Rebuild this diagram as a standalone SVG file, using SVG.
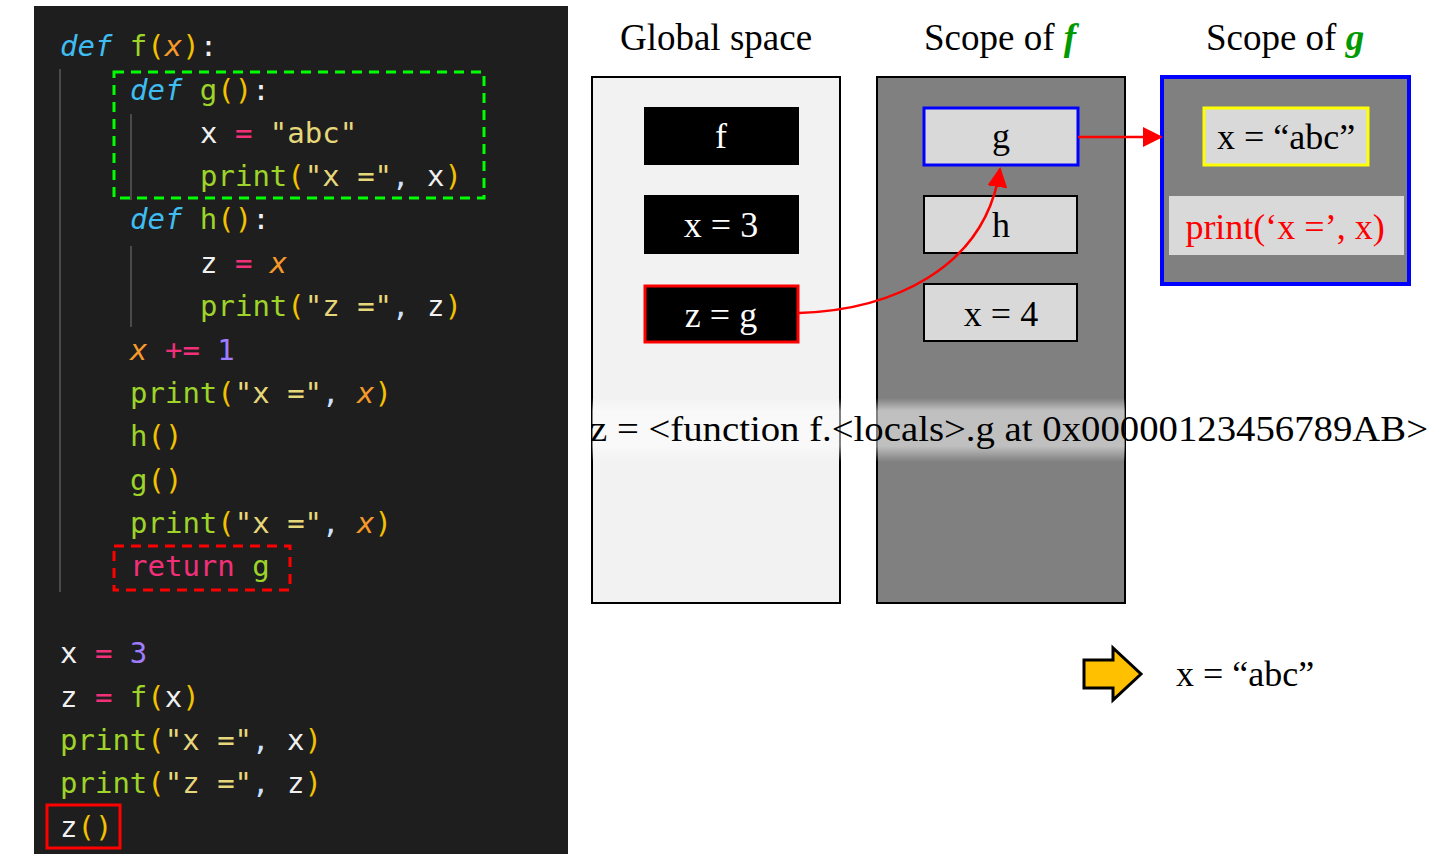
<svg xmlns="http://www.w3.org/2000/svg" width="1452" height="862" viewBox="0 0 1452 862">
<defs>
<style>
.code{font-family:"DejaVu Sans Mono","Liberation Mono",monospace;font-size:29px;fill:#f0f0f0}
.kw{fill:#3fbdf0;font-style:italic}
.fn{fill:#9ed42a}
.pa{fill:#f2c200}
.ar{fill:#f59a2a;font-style:italic}
.op{fill:#f2307a}
.st{fill:#e6d77a}
.nu{fill:#a07cff}
.cm{fill:#cfe3ff}
.guide{stroke:#4a4a4a;stroke-width:2}
.lbl{font-family:"Liberation Serif","DejaVu Serif",serif;font-size:36px;text-anchor:middle}
.title{font-family:"Liberation Serif","DejaVu Serif",serif;font-size:37px;text-anchor:middle;fill:#000}
.blk{fill:#000}
.lt{fill:#d9d9d9}
.wt{fill:#fff}
</style>
<marker id="ah" viewBox="0 0 10 10" refX="9" refY="5" markerWidth="8" markerHeight="8" orient="auto" markerUnits="strokeWidth">
<path d="M0,0 L10,5 L0,10 z" fill="#ff0000"/>
</marker>
<linearGradient id="band" x1="0" y1="0" x2="0" y2="1">
<stop offset="0" stop-color="#fff" stop-opacity="0"/>
<stop offset="0.2" stop-color="#fff" stop-opacity="0.5"/>
<stop offset="0.75" stop-color="#fff" stop-opacity="0.5"/>
<stop offset="1" stop-color="#fff" stop-opacity="0"/>
</linearGradient>
</defs>
<rect width="1452" height="862" fill="#fff"/>

<g id="code">
<rect x="34" y="6" width="534" height="848" fill="#1e1e1e"/>
<line class="guide" x1="60" y1="69" x2="60" y2="592"/>
<line class="guide" x1="131" y1="114" x2="131" y2="200"/>
<line class="guide" x1="131" y1="246" x2="131" y2="327"/>
<g class="code" xml:space="preserve">
<text x="60" y="56"><tspan class="kw">def</tspan> <tspan class="fn">f</tspan><tspan class="pa">(</tspan><tspan class="ar">x</tspan><tspan class="pa">)</tspan>:</text>
<text x="130" y="100"><tspan class="kw">def</tspan> <tspan class="fn">g</tspan><tspan class="pa">()</tspan>:</text>
<text x="200" y="143">x <tspan class="op">=</tspan> <tspan class="st">"abc"</tspan></text>
<text x="200" y="186"><tspan class="fn">print</tspan><tspan class="pa">(</tspan><tspan class="st">"x ="</tspan><tspan class="cm">,</tspan> x<tspan class="pa">)</tspan></text>
<text x="130" y="229"><tspan class="kw">def</tspan> <tspan class="fn">h</tspan><tspan class="pa">()</tspan>:</text>
<text x="200" y="273">z <tspan class="op">=</tspan> <tspan class="ar">x</tspan></text>
<text x="200" y="316"><tspan class="fn">print</tspan><tspan class="pa">(</tspan><tspan class="st">"z ="</tspan><tspan class="cm">,</tspan> z<tspan class="pa">)</tspan></text>
<text x="130" y="360"><tspan class="ar">x</tspan> <tspan class="op">+=</tspan> <tspan class="nu">1</tspan></text>
<text x="130" y="403"><tspan class="fn">print</tspan><tspan class="pa">(</tspan><tspan class="st">"x ="</tspan><tspan class="cm">,</tspan> <tspan class="ar">x</tspan><tspan class="pa">)</tspan></text>
<text x="130" y="446"><tspan class="fn">h</tspan><tspan class="pa">()</tspan></text>
<text x="130" y="490"><tspan class="fn">g</tspan><tspan class="pa">()</tspan></text>
<text x="130" y="533"><tspan class="fn">print</tspan><tspan class="pa">(</tspan><tspan class="st">"x ="</tspan><tspan class="cm">,</tspan> <tspan class="ar">x</tspan><tspan class="pa">)</tspan></text>
<text x="130" y="576"><tspan class="op">return</tspan> <tspan class="fn">g</tspan></text>
<text x="60" y="663">x <tspan class="op">=</tspan> <tspan class="nu">3</tspan></text>
<text x="60" y="707">z <tspan class="op">=</tspan> <tspan class="fn">f</tspan><tspan class="pa">(</tspan>x<tspan class="pa">)</tspan></text>
<text x="60" y="750"><tspan class="fn">print</tspan><tspan class="pa">(</tspan><tspan class="st">"x ="</tspan><tspan class="cm">,</tspan> x<tspan class="pa">)</tspan></text>
<text x="60" y="793"><tspan class="fn">print</tspan><tspan class="pa">(</tspan><tspan class="st">"z ="</tspan><tspan class="cm">,</tspan> z<tspan class="pa">)</tspan></text>
<text x="60" y="837">z<tspan class="pa">()</tspan></text>
</g>
<rect x="114" y="72" width="370" height="126" fill="none" stroke="#00ff00" stroke-width="3" stroke-dasharray="10,7"/>
<rect x="114" y="546" width="176" height="44" fill="none" stroke="#ff0000" stroke-width="3" stroke-dasharray="10,7"/>
<rect x="47" y="805" width="73" height="43" fill="none" stroke="#ff0000" stroke-width="3"/>
</g>

<g id="titles">
<text class="title" x="716" y="50">Global space</text>
<text class="title" x="1000" y="50">Scope of <tspan fill="#009a00" font-weight="bold" font-style="italic">f</tspan></text>
<text class="title" x="1285" y="50">Scope of <tspan fill="#009a00" font-weight="bold" font-style="italic">g</tspan></text>
</g>

<g id="global-space">
<rect x="592" y="77" width="248" height="526" fill="#f2f2f2" stroke="#000" stroke-width="2"/>
</g>
<g id="scope-f">
<rect x="877" y="77" width="248" height="526" fill="#808080" stroke="#000" stroke-width="2"/>
</g>
<g id="scope-g">
<rect x="1162" y="77" width="247" height="207" fill="#808080" stroke="#0000ff" stroke-width="4"/>
</g>

<g id="node-f"><rect x="644" y="107" width="155" height="58" class="blk"/><text class="lbl wt" x="721" y="148">f</text></g>
<g id="node-x3"><rect x="644" y="195" width="155" height="59" class="blk"/><text class="lbl wt" x="721" y="237">x = 3</text></g>
<g id="node-zg"><rect x="645" y="286" width="153" height="56" class="blk" stroke="#ff0000" stroke-width="3"/><text class="lbl wt" x="721" y="327">z = g</text></g>

<g id="node-g"><rect x="924" y="108" width="154" height="57" class="lt" stroke="#0000ff" stroke-width="3"/><text class="lbl" x="1001" y="148">g</text></g>
<g id="node-h"><rect x="924" y="196" width="153" height="57" class="lt" stroke="#000" stroke-width="2"/><text class="lbl" x="1001" y="237">h</text></g>
<g id="node-x4"><rect x="924" y="284" width="153" height="57" class="lt" stroke="#000" stroke-width="2"/><text class="lbl" x="1001" y="326">x = 4</text></g>

<g id="node-xabc"><rect x="1204" y="108" width="164" height="57" class="lt" stroke="#ffff00" stroke-width="3"/><text class="lbl" x="1286" y="149">x = “abc”</text></g>
<g id="node-print"><rect x="1169" y="196" width="235" height="59" class="lt"/><text class="lbl" x="1285" y="239" fill="#ff0000">print(‘x =’, x)</text></g>

<g id="band">
<rect x="592" y="398" width="533" height="64" fill="url(#band)"/>
<text x="590" y="441" font-family="Liberation Serif, DejaVu Serif, serif" font-size="36" textLength="838" lengthAdjust="spacingAndGlyphs">z = &lt;function f.&lt;locals&gt;.g at 0x00000123456789AB&gt;</text>
</g>

<g id="connectors" fill="none" stroke="#ff0000" stroke-width="2.5">
<path d="M1078,137 L1161,137" marker-end="url(#ah)"/>
<path d="M799,313 C890,310 985,270 1000,169" marker-end="url(#ah)"/>
</g>

<g id="result">
<path d="M1084,660 L1113,660 L1113,648 L1141,674 L1113,700 L1113,688 L1084,688 z" fill="#ffc000" stroke="#000" stroke-width="3" stroke-linejoin="miter"/>
<text x="1176" y="686" font-family="Liberation Serif, DejaVu Serif, serif" font-size="36">x = “abc”</text>
</g>
</svg>
